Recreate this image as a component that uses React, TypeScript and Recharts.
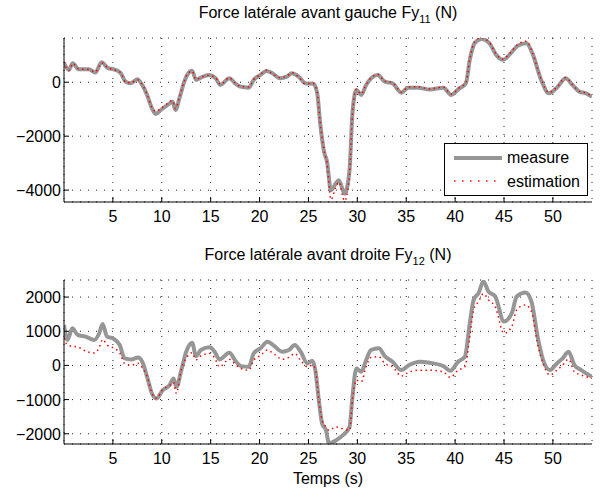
import React from "react";
import { LineChart, Line, XAxis, YAxis, CartesianGrid, Legend } from "recharts";

// time (s) and lateral force (N)
const topTime = [
  0, 0.5, 0.9, 1.5, 2.55, 3.2, 3.85, 4.5, 5.1, 5.8, 6.3, 6.8, 7.5, 8.0, 8.5, 9.0, 9.4, 9.9, 10.6, 11.1,
  11.4, 11.8, 12.3, 12.6, 13.1, 13.5, 14.0, 14.8, 15.5, 16.0, 16.9, 17.5, 18.0, 18.9, 19.4, 20.1, 20.7, 21.3, 22.1, 22.8,
  23.3, 24.0, 24.7, 25.5, 25.9, 26.2, 26.6, 26.9, 27.3, 27.8, 28.1, 28.7, 29.2, 29.5, 29.9, 30.4, 30.9, 32.1, 32.8, 33.6,
  34.5, 35.2, 36.2, 37.4, 38.8, 39.6, 40.4, 41.1, 41.5, 42.0, 42.7, 43.5, 44.2, 44.9, 45.7, 46.4, 47.3, 47.9, 48.8, 49.6,
  50.5, 51.3, 52.0, 52.7, 53.4, 54.0,
];
const topMeasure = [
  720, 460, 700, 480, 480, 360, 740, 520, 480, 340, 20, -40, 110, -100, -470, -970, -1180, -1030, -840, -720,
  -1030, -600, 20, 270, 430, 85, 170, 270, 150, -100, 150, -40, -160, -200, 85, 270, 420, 335, 150, 210,
  335, 210, -40, -60, -410, -1520, -2580, -2950, -4000, -3750, -3630, -4130, -3260, -1150, -290, -470, -100, 270, 20, -40,
  -390, -200, -200, -270, -200, -470, -235, -40, 830, 1450, 1600, 1450, 1015, 830, 1077, 1350, 1450, 1077, 85, -410,
  -164, 146, -100, -348, -410, -540,
];
const topEstimation = [
  760, 430, 690, 500, 470, 380, 720, 540, 460, 360, 0, -20, 90, -80, -450, -940, -1080, -980, -780, -680,
  -980, -560, 40, 300, 410, 100, 190, 250, 170, -80, 170, -20, -140, -180, 100, 290, 440, 320, 170, 230,
  350, 190, -60, -40, -380, -1480, -2520, -3000, -4350, -3900, -3700, -4400, -3400, -1200, -260, -440, -80, 290, 40, -20,
  -360, -180, -170, -250, -180, -440, -210, -10, 860, 1500, 1650, 1480, 1040, 860, 1110, 1400, 1520, 1100, 110, -380,
  -150, 170, -80, -330, -400, -520,
];

const bottomTime = [
  0, 0.35, 0.85, 1.4, 2.2, 3.1, 3.6, 3.95, 4.4, 5.0, 5.7, 6.2, 6.9, 7.6, 8.0, 8.5, 9.0, 9.45, 10.1, 10.8,
  11.2, 11.5, 12.0, 12.5, 13.1, 13.5, 14.0, 14.9, 15.4, 15.9, 16.9, 17.6, 18.1, 18.9, 19.4, 20.1, 20.8, 21.5, 22.3, 23.0,
  23.6, 24.2, 24.9, 25.4, 25.7, 26.1, 26.4, 26.8, 27.1, 27.8, 28.5, 29.2, 29.5, 29.9, 30.4, 30.9, 31.4, 32.2, 32.8, 33.6,
  34.5, 35.3, 36.4, 37.4, 38.8, 39.5, 40.3, 41.0, 41.5, 41.9, 42.4, 42.9, 43.4, 44.1, 45.0, 45.8, 46.3, 47.2, 47.8, 48.5,
  49.0, 49.7, 50.4, 51.0, 51.6, 52.2, 52.9, 54.0,
];
const bottomMeasure = [
  1186, 745, 1088, 892, 843, 745, 941, 1215, 843, 794, 598, 206, 176, 235, 108, -333, -823, -970, -725, -578,
  -382, -627, -137, 402, 666, 274, 451, 529, 402, 176, 372, 108, -20, -39, 353, 500, 696, 568, 402, 451,
  598, 402, 59, 137, -137, -1117, -1705, -1901, -2280, -2195, -2048, -1803, -921, -88, -186, 157, 451, 500, 274, 108,
  -137, 10, 108, 78, -20, -157, 108, 255, 1235, 1921, 2117, 2460, 2166, 2019, 1284, 1529, 2019, 2136, 1872, 745,
  157, -137, 59, 206, 402, 10, -137, -333,
];
const bottomEstimation = [
  800, 600, 560, 540, 420, 360, 520, 760, 600, 520, 360, 60, 10, 60, -60, -330, -820, -960, -700, -590,
  -500, -820, -100, 210, 370, 160, 280, 350, 220, -40, 180, 10, -90, -140, 150, 290, 450, 330, 180, 235,
  350, 150, -40, 10, -100, -1100, -1600, -1800, -1900, -1800, -1850, -1900, -1020, -430, -480, -40, 235, 255, 60, -40,
  -310, -190, -140, -140, -190, -350, -140, -40, 840, 1630, 1870, 2100, 1920, 1720, 940, 1140, 1630, 1770, 1580, 550,
  60, -280, -140, 10, 180, -190, -280, -380,
];

const timeTicks = [5, 10, 15, 20, 25, 30, 35, 40, 45, 50];
const topYTicks = [-4000, -2000, 0];
const bottomYTicks = [-2000, -1000, 0, 1000, 2000];
const timeDomain = [0, 54];
const topYDomain = [-4440, 1640];
const bottomYDomain = [-2300, 2500];

const FONT = '"Liberation Sans", Arial, Helvetica, sans-serif';
const MEASURE_COLOR = "#969696";
const ESTIM_COLOR = "#ff0000";

const topData = topTime.map((t, i) => ({ t, measure: topMeasure[i], estimation: topEstimation[i] }));
const bottomData = bottomTime.map((t, i) => ({ t, measure: bottomMeasure[i], estimation: bottomEstimation[i] }));

// matlab-like ticks: pointing inward, labels outside
const BottomTick = (props: any) => {
  const { x, y, payload } = props;
  return (
    <g>
      <line x1={x} y1={y} x2={x} y2={y - 5} stroke="#000" />
      <text x={x} y={y + 19.5} textAnchor="middle" fontSize={16} fontFamily={FONT} fill="#000">
        {payload.value}
      </text>
    </g>
  );
};
const TopTick = (props: any) => <line x1={props.x} y1={props.y} x2={props.x} y2={props.y + 5} stroke="#000" />;
const LeftTick = (props: any) => {
  const { x, y, payload } = props;
  return (
    <g>
      <line x1={x} y1={y} x2={x + 5} y2={y} stroke="#000" />
      <text x={x - 3} y={y + 6} textAnchor="end" fontSize={16} fontFamily={FONT} fill="#000">
        {String(payload.value).replace("-", "\u2212")}
      </text>
    </g>
  );
};
const RightTick = (props: any) => <line x1={props.x} y1={props.y} x2={props.x - 5} y2={props.y} stroke="#000" />;

function LegendBox() {
  return (
    <svg width={144} height={53} style={{ display: "block" }}>
      <rect x={0.5} y={0.5} width={143} height={52} fill="#fff" stroke="#000" />
      <line x1={10} y1={15} x2={58} y2={15} stroke={MEASURE_COLOR} strokeWidth={4} />
      <text x={63} y={20} fontSize={16} fontFamily={FONT} fill="#000">measure</text>
      <line x1={10} y1={38} x2={58} y2={38} stroke={ESTIM_COLOR} strokeWidth={1.5} strokeDasharray="1.5 6.5" />
      <text x={63} y={44} fontSize={16} fontFamily={FONT} fill="#000">estimation</text>
    </svg>
  );
}

function Panel({ data, yDomain, yTicks, legend }: any) {
  return (
    <LineChart width={607} height={225} data={data} margin={{ top: 38, right: 15, bottom: 3, left: 0 }}>
      <CartesianGrid stroke="#222" strokeDasharray="1 7" />
      <XAxis
        dataKey="t"
        type="number"
        domain={timeDomain}
        ticks={timeTicks}
        height={20}
        tickSize={0}
        tickMargin={0}
        axisLine={{ stroke: "#000" }}
        tickLine={false}
        tick={BottomTick}
        allowDataOverflow
      />
      <XAxis
        xAxisId="top"
        orientation="top"
        dataKey="t"
        type="number"
        domain={timeDomain}
        ticks={timeTicks}
        height={0}
        tickSize={0}
        tickMargin={0}
        axisLine={{ stroke: "#000" }}
        tickLine={false}
        tick={TopTick}
        allowDataOverflow
      />
      <YAxis
        type="number"
        domain={yDomain}
        ticks={yTicks}
        width={64}
        tickSize={0}
        tickMargin={0}
        axisLine={{ stroke: "#000" }}
        tickLine={false}
        tick={LeftTick}
        allowDataOverflow
      />
      <YAxis
        yAxisId="right"
        orientation="right"
        type="number"
        domain={yDomain}
        ticks={yTicks}
        width={0}
        tickSize={0}
        tickMargin={0}
        axisLine={{ stroke: "#000" }}
        tickLine={false}
        tick={RightTick}
        allowDataOverflow
      />
      <Line
        type="monotone"
        dataKey="measure"
        stroke={MEASURE_COLOR}
        strokeWidth={4}
        dot={false}
        isAnimationActive={false}
      />
      <Line
        type="monotone"
        dataKey="estimation"
        stroke={ESTIM_COLOR}
        strokeWidth={1.5}
        strokeDasharray="1.5 3.5"
        dot={false}
        isAnimationActive={false}
      />
      {legend && (
        <Legend
          layout="vertical"
          align="center"
          verticalAlign="middle"
          content={() => <LegendBox />}
          wrapperStyle={{ position: "absolute", left: 444, top: 143, width: 144, height: 53 }}
        />
      )}
    </LineChart>
  );
}

export default function App() {
  return (
    <div style={{ position: "absolute", left: 0, top: 0, width: 607, height: 492, background: "#fff" }}>
      <div style={{ position: "absolute", left: 0, top: 0 }}>
        <Panel data={topData} yDomain={topYDomain} yTicks={topYTicks} legend />
      </div>
      <div style={{ position: "absolute", left: 0, top: 242 }}>
        <Panel data={bottomData} yDomain={bottomYDomain} yTicks={bottomYTicks} legend={false} />
      </div>
      <svg width={607} height={492} style={{ position: "absolute", left: 0, top: 0, pointerEvents: "none" }}>
        <text x={328} y={18} textAnchor="middle" fontSize={16} fontFamily={FONT} fill="#000">
          Force latérale avant gauche Fy
          <tspan fontSize={11} dy={5}>11</tspan>
          <tspan dy={-5}> (N)</tspan>
        </text>
        <text x={328} y={260} textAnchor="middle" fontSize={16} fontFamily={FONT} fill="#000">
          Force latérale avant droite Fy
          <tspan fontSize={11} dy={5}>12</tspan>
          <tspan dy={-5}> (N)</tspan>
        </text>
        <text x={328} y={484} textAnchor="middle" fontSize={16} fontFamily={FONT} fill="#000">
          Temps (s)
        </text>
      </svg>
    </div>
  );
}
